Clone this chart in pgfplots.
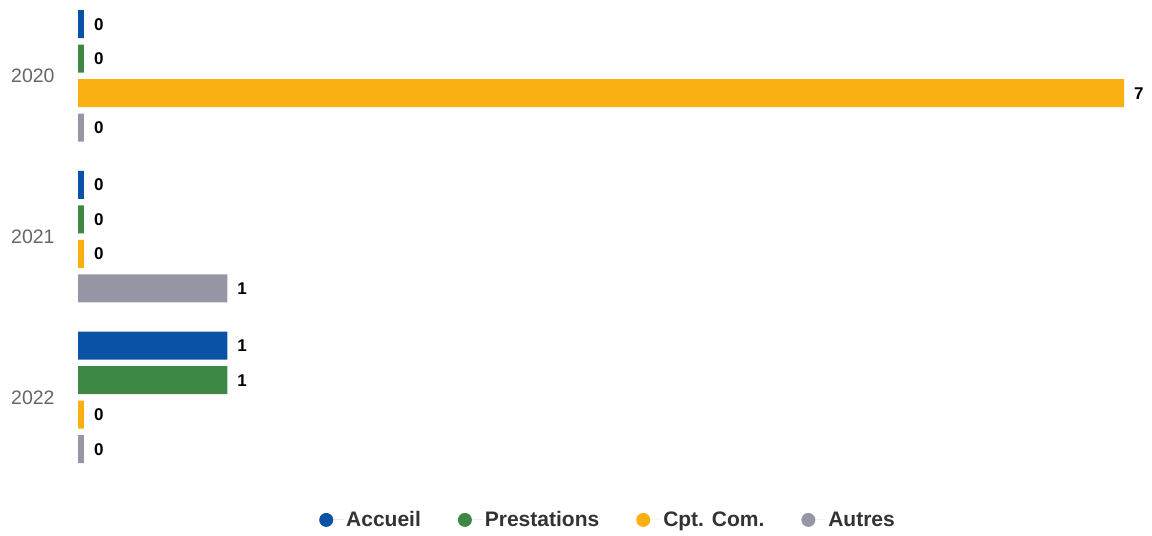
\documentclass[border=0pt]{standalone}
\usepackage{pgfplots}
\usepackage{pgfplotstable}
\pgfplotsset{compat=1.18}
\usepackage{fontspec}
\setmainfont{Liberation Sans}

\definecolor{cAcc}{HTML}{0A52A3}
\definecolor{cPre}{HTML}{3E8744}
\definecolor{cCpt}{HTML}{FAB012}
\definecolor{cAut}{HTML}{9697A4}

% year: 2 = 2020, 1 = 2021, 0 = 2022
\pgfplotstableread{
year acc pre cpt aut
2 0 0 7 0
1 0 0 0 1
0 1 1 0 0
}\counts

\begin{document}
\begin{tikzpicture}
\begin{axis}[
  name=ax,
  x=149.43bp, y=160.75bp,
  xmin=-0.522, xmax=7.1873,
  ymin=-0.8616, ymax=2.4728,
  clip=false,
  xbar, bar width=28bp,
  axis line style={draw=none},
  major tick style={draw=none},
  xtick=\empty,
  ytick={0,1,2},
  yticklabels={2022,2021,2020},
  yticklabel style={anchor=east, inner sep=0pt, xshift=59bp,
    text=black!60, font=\fontsize{19.5bp}{23bp}\selectfont},
  point meta=explicit,
  nodes near coords={\pgfmathprintnumber[fixed,precision=0,assume math mode=true]{\pgfplotspointmeta}},
  every node near coord/.append style={anchor=west, xshift=6.5bp,
    font=\fontsize{17bp}{20bp}\selectfont\bfseries, text=black},
  legend columns=4,
  legend style={draw=none, fill=none, at={(0.5278,0.03)}, anchor=center,
    font=\fontsize{21bp}{25bp}\selectfont\bfseries, text=black!80,
    /tikz/every even column/.append style={column sep=35bp}},
  legend image code/.code={
    \path (-7bp,0) -- (18bp,0);
    \fill[#1] (0,0) circle (7bp);
  },
]
\addplot[fill=cAcc, draw=none, bar shift=51.75bp]
  table[y=year, x expr={max(\thisrow{acc},0.04)}, meta=acc] {\counts};
\addplot[fill=cPre, draw=none, bar shift=17.25bp]
  table[y=year, x expr={max(\thisrow{pre},0.04)}, meta=pre] {\counts};
\addplot[fill=cCpt, draw=none, bar shift=-17.25bp]
  table[y=year, x expr={max(\thisrow{cpt},0.04)}, meta=cpt] {\counts};
\addplot[fill=cAut, draw=none, bar shift=-51.75bp]
  table[y=year, x expr={max(\thisrow{aut},0.04)}, meta=aut] {\counts};
\legend{Accueil, Prestations, Cpt. Com., Autres}
\end{axis}
\pgfresetboundingbox
\path (ax.south west) rectangle (ax.north east);
\end{tikzpicture}
\end{document}
